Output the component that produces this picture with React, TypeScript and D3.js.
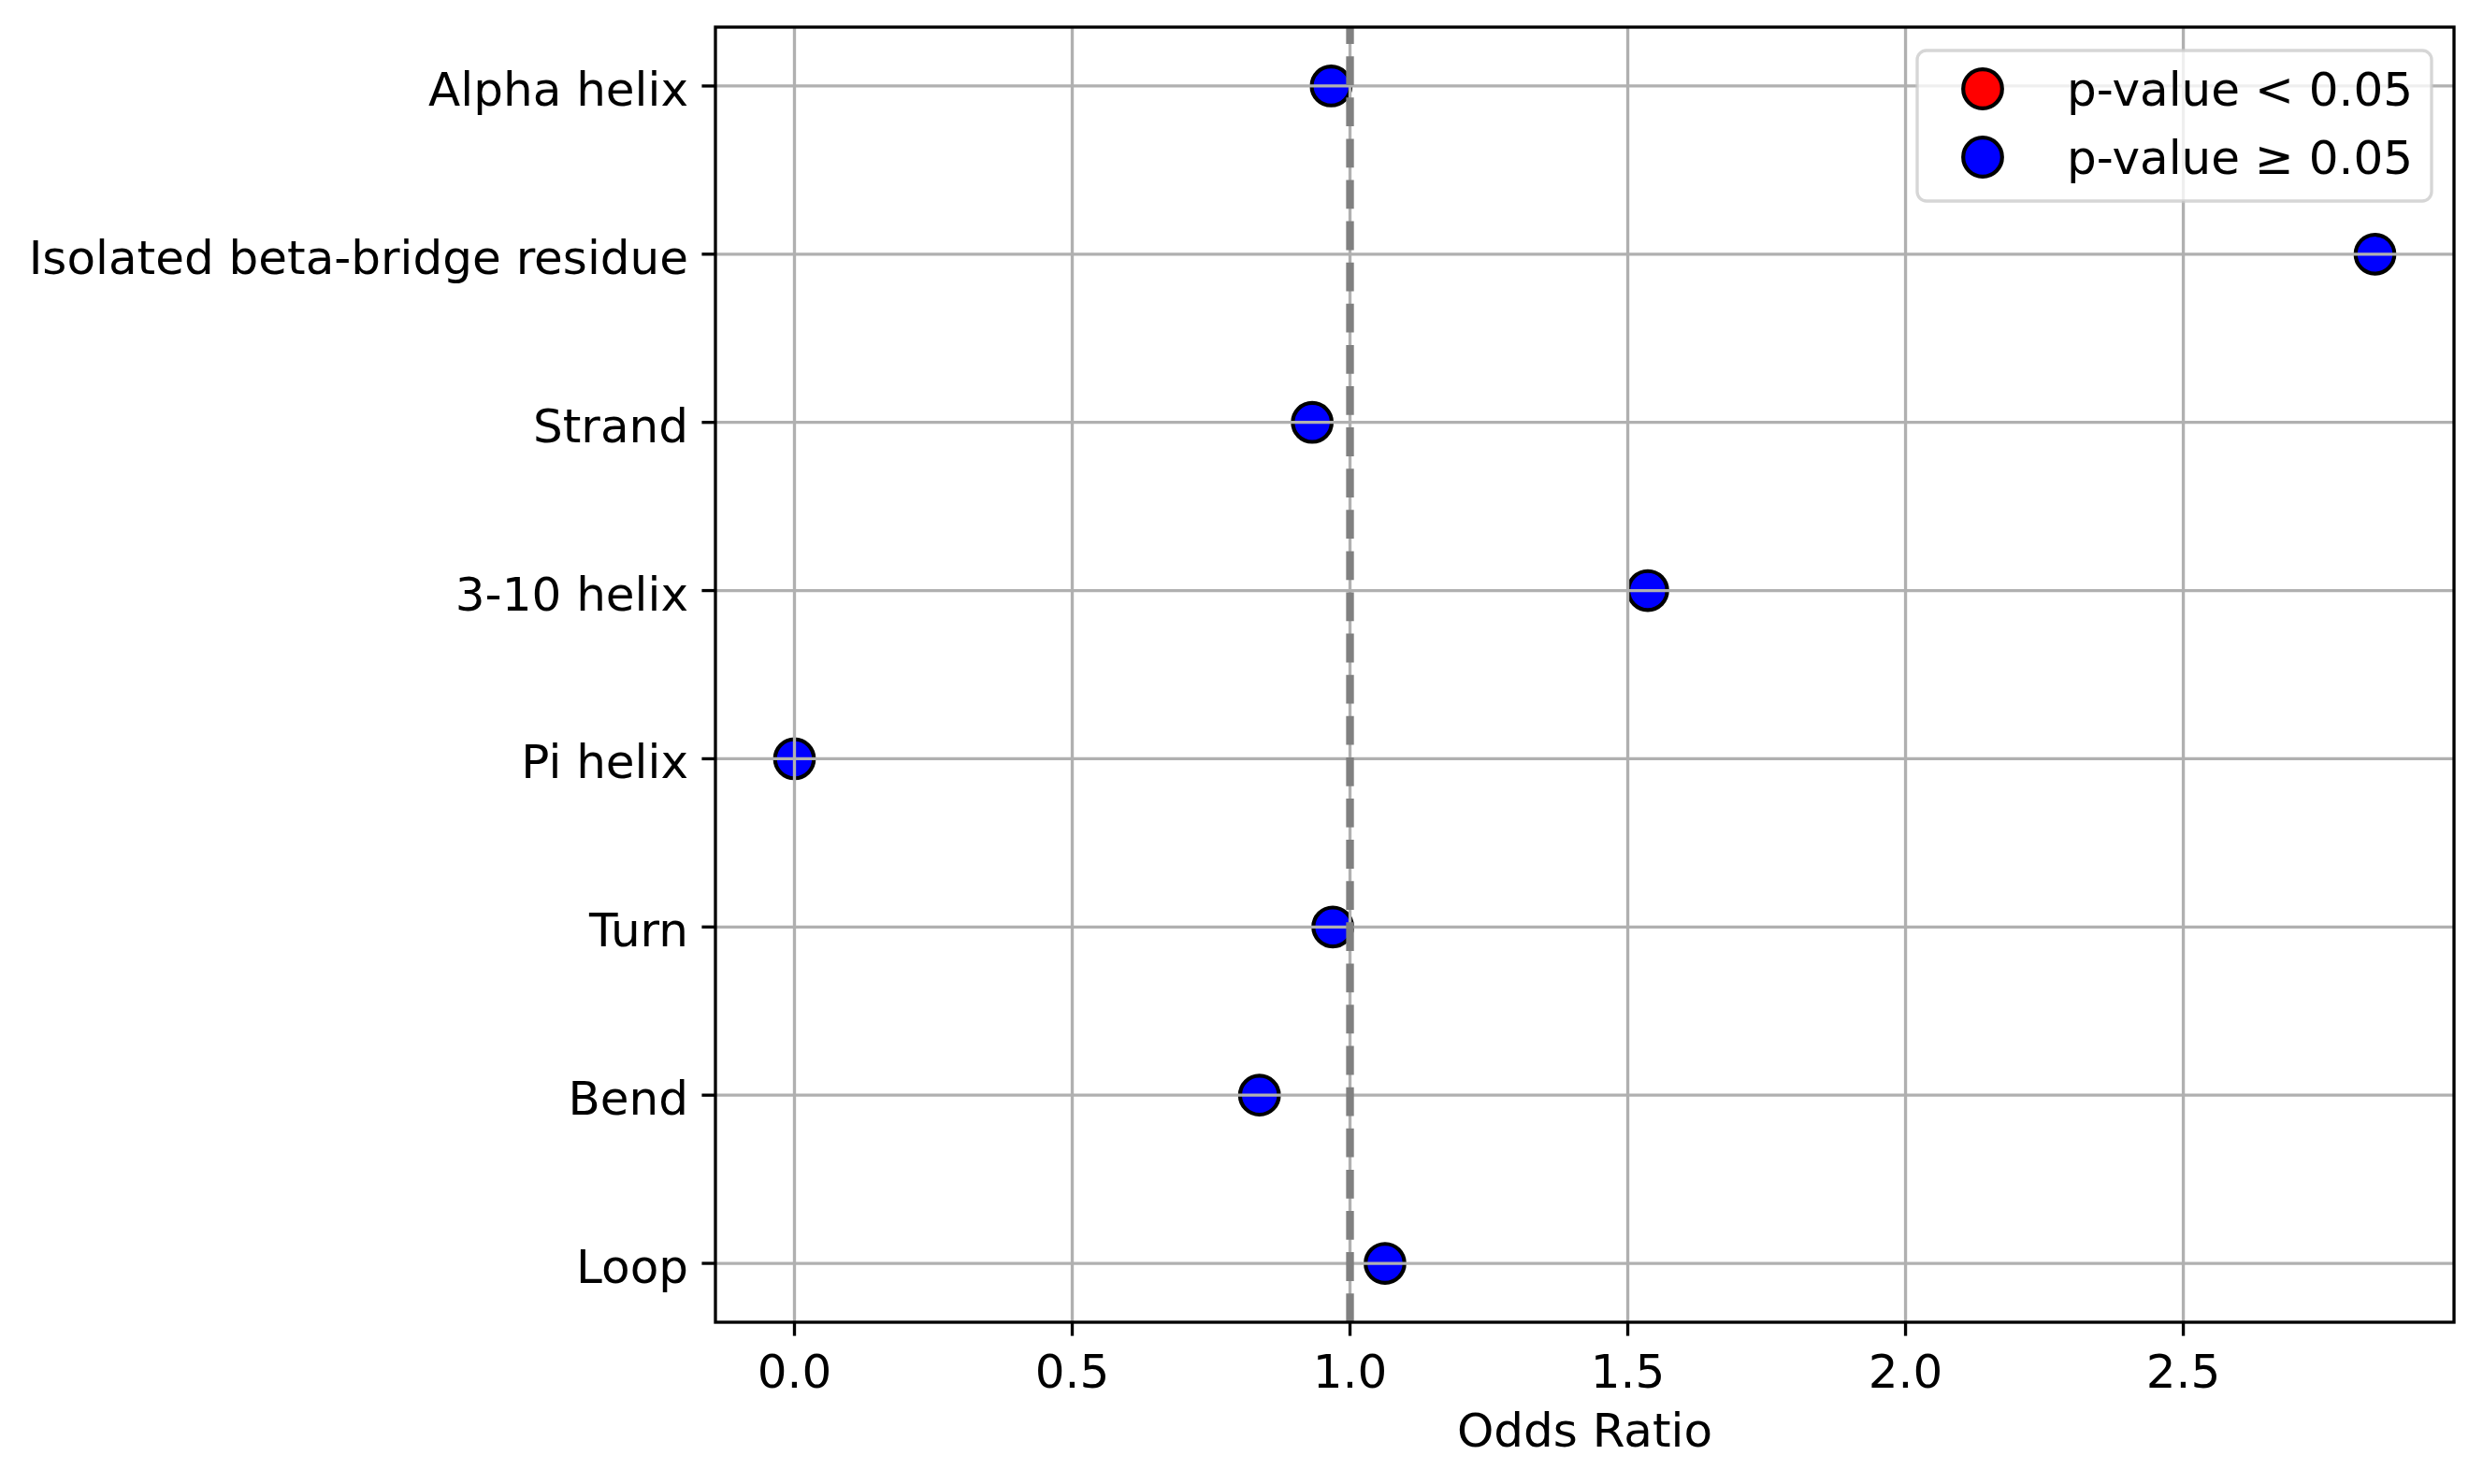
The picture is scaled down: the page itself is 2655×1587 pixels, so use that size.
import React from "react";
import * as d3 from "d3";

// secondary structure categories, top to bottom
const categories = [
  "Alpha helix",
  "Isolated beta-bridge residue",
  "Strand",
  "3-10 helix",
  "Pi helix",
  "Turn",
  "Bend",
  "Loop",
];

const oddsRatios = [0.966, 2.845, 0.932, 1.536, 0.0, 0.969, 0.837, 1.063];

// true when p-value < 0.05
const significant = [false, false, false, false, false, false, false, false];

const xTicks = [0.0, 0.5, 1.0, 1.5, 2.0, 2.5];

const legendLabels = ["p-value < 0.05", "p-value \u2265 0.05"];
const legendColors = ["#ff0000", "#0000ff"];

const W = 2655;
const H = 1587;
const left = 765;
const right = 2624;
const top = 29;
const bottom = 1414;
const FONT = "DejaVu Sans, sans-serif";
const FS = 50;
const tickLen = 14.6;
const lw = 3.33;

const App: React.FC = () => {
  const [minV, maxV] = d3.extent(oddsRatios) as [number, number];
  const m = (maxV - minV) * 0.05;
  const x = d3.scaleLinear().domain([minV - m, maxV + m]).range([left, right]);
  const y = d3.scalePoint<string>().domain(categories).range([top, bottom]).padding(0.35);

  return (
    <svg
      width={W}
      height={H}
      style={{ position: "absolute", left: 0, top: 0, background: "#fff" }}
      fontFamily={FONT}
    >
      <rect x={0} y={0} width={W} height={H} fill="#fff" />

      {/* points */}
      {categories.map((c, i) => (
        <circle
          key={c}
          cx={x(oddsRatios[i])}
          cy={y(c)}
          r={20.8}
          fill={significant[i] ? "#ff0000" : "#0000ff"}
          stroke="#000"
          strokeWidth={4.2}
        />
      ))}

      {/* grid */}
      {xTicks.map((t) => (
        <line key={"gx" + t} x1={x(t)} x2={x(t)} y1={top} y2={bottom} stroke="#b0b0b0" strokeWidth={lw} />
      ))}
      {categories.map((c) => (
        <line key={"gy" + c} x1={left} x2={right} y1={y(c)} y2={y(c)} stroke="#b0b0b0" strokeWidth={lw} />
      ))}

      {/* reference line at OR = 1 */}
      <line
        x1={x(1)}
        x2={x(1)}
        y1={bottom}
        y2={top}
        stroke="#808080"
        strokeWidth={8.33}
        strokeDasharray="30.8,13.3"
      />

      {/* spines */}
      <rect x={left} y={top} width={right - left} height={bottom - top} fill="none" stroke="#000" strokeWidth={lw} />

      {/* x ticks */}
      {xTicks.map((t) => (
        <g key={"xt" + t}>
          <line x1={x(t)} x2={x(t)} y1={bottom} y2={bottom + tickLen} stroke="#000" strokeWidth={lw} />
          <text x={x(t)} y={1484} fontSize={FS} textAnchor="middle" fill="#000">
            {t.toFixed(1)}
          </text>
        </g>
      ))}

      {/* y ticks */}
      {categories.map((c) => (
        <g key={"yt" + c}>
          <line x1={left - tickLen} x2={left} y1={y(c)} y2={y(c)} stroke="#000" strokeWidth={lw} />
          <text x={left - 29} y={(y(c) as number) + 21} fontSize={FS} textAnchor="end" fill="#000">
            {c}
          </text>
        </g>
      ))}

      <text x={(left + right) / 2} y={1547} fontSize={FS} textAnchor="middle" fill="#000">
        Odds Ratio
      </text>

      {/* legend */}
      <rect
        x={2050}
        y={54}
        width={550}
        height={161}
        rx={10}
        fill="#fff"
        fillOpacity={0.8}
        stroke="#cccccc"
        strokeOpacity={0.8}
        strokeWidth={lw}
      />
      {legendLabels.map((l, i) => (
        <g key={l}>
          <circle cx={2120} cy={95 + i * 73} r={20.8} fill={legendColors[i]} stroke="#000" strokeWidth={4.2} />
          <text x={2210} y={95 + i * 73 + 18} fontSize={FS} fill="#000">
            {l}
          </text>
        </g>
      ))}
    </svg>
  );
};

export default App;
